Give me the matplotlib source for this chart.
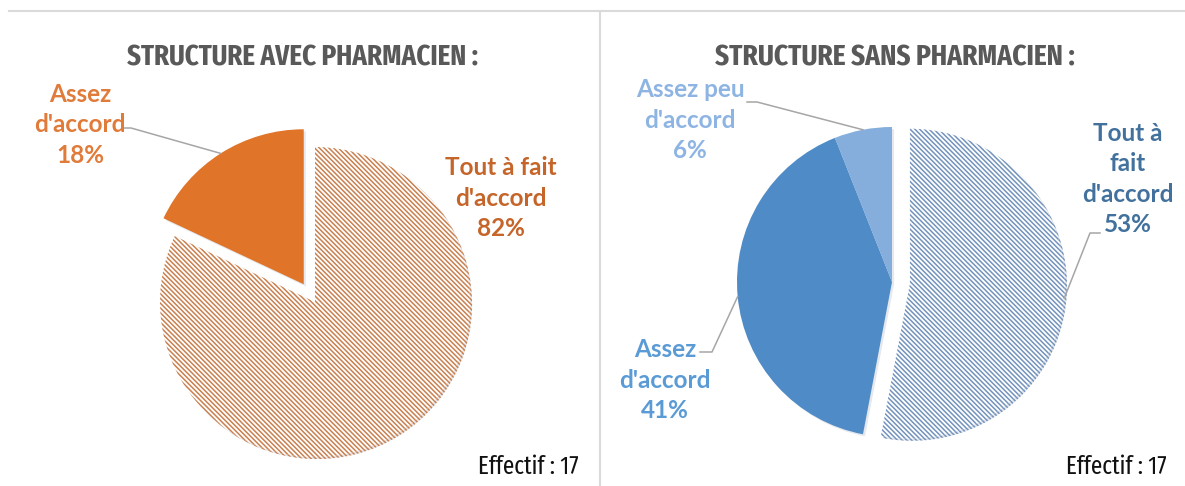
import os
import numpy as np
import matplotlib
matplotlib.use("Agg")
import matplotlib.pyplot as plt
from matplotlib.lines import Line2D
from matplotlib import font_manager as fm
import matplotlib.patheffects as pe

# data
left_title = "STRUCTURE AVEC PHARMACIEN :"
left_labels = ["Tout à fait\nd'accord", "Assez\nd'accord"]
left_values = [82, 18]

right_title = "STRUCTURE SANS PHARMACIEN :"
right_labels = ["Tout à\nfait\nd'accord", "Assez\nd'accord", "Assez peu\nd'accord"]
right_values = [53, 41, 6]

effectif = "Effectif : 17"

W, H = 1185, 486
plt.rcParams['hatch.linewidth'] = 1.1


def narrow_font(target_weight):
    # narrowest installed font, closest to the wanted weight
    best, best_score = None, None
    for f in fm.fontManager.ttflist:
        key = (f.name + os.path.basename(f.fname)).lower().replace(' ', '').replace('-', '')
        if f.style != 'normal':
            continue
        if 'extracondensed' in key or 'ultracondensed' in key:
            s = 0
        elif 'semicondensed' in key:
            s = 2
        elif 'condensed' in key or 'narrow' in key:
            s = 1
        else:
            continue
        w = f.weight if isinstance(f.weight, int) else fm.weight_dict.get(f.weight, 400)
        score = (s, abs(w - target_weight))
        if best_score is None or score < best_score:
            best, best_score = f.fname, score
    if best is None:
        return fm.FontProperties(family='DejaVu Sans', weight=target_weight, stretch='condensed')
    return fm.FontProperties(fname=best)


title_fp = narrow_font(700)
eff_fp = narrow_font(400)

fig = plt.figure(figsize=(W / 100, H / 100), dpi=100)
ax = fig.add_axes([0, 0, 1, 1])

# frame lines
fig.add_artist(Line2D([9 / W, 1], [1 - 11 / H, 1 - 11 / H], color='#DADADA', lw=1.5))
fig.add_artist(Line2D([600 / W, 600 / W], [0, 1 - 11 / H], color='#DADADA', lw=1.5))

label_font = dict(family='Lato', weight='bold', fontsize=17.5, linespacing=1.4, ha='center', va='center')
lead = dict(color='#A6A6A6', lw=1.1)
shadow = [pe.SimplePatchShadow(offset=(1.5, -1.5), shadow_rgbFace='#9aa6b4', alpha=0.25), pe.Normal()]


def y(v):
    return H - v


def edge_point(w):
    # point on the arc at the middle angle of the wedge
    mid = np.deg2rad((w.theta1 + w.theta2) / 2)
    cx, cy = w.center
    return cx + w.r * np.cos(mid), cy + w.r * np.sin(mid)


def fitted_text(x, yy, s, width, fp, color, ha='center'):
    t = ax.text(x, yy, s, ha=ha, va='center', fontproperties=fp, color=color)
    t.set_fontsize(20)
    r = fig.canvas.get_renderer()
    wpx = t.get_window_extent(r).width
    t.set_fontsize(20 * width / wpx)
    return t


# ---- left pie ----
wl, _ = ax.pie(left_values, startangle=90, counterclock=False,
               center=(315, y(302)), radius=155, explode=[0, 21],
               colors=['white', '#E07428'], wedgeprops=dict(linewidth=0),
               frame=True)
wl[0].set_hatch('\\' * 7)
wl[0].set_edgecolor('#C98050')

# ---- right pie ----
wr, _ = ax.pie(right_values, startangle=90, counterclock=False,
               center=(892, y(282)), radius=155, explode=[18, 0, 0],
               colors=['white', '#4F8BC6', '#85AEDC'], wedgeprops=dict(linewidth=0),
               frame=True)
wr[0].set_hatch('\\' * 7)
wr[0].set_edgecolor('#7393BC')

for w in list(wl) + list(wr):
    w.set_path_effects(shadow)

ax.set_xlim(0, W)
ax.set_ylim(0, H)
ax.set_aspect('equal')
ax.axis('off')

fitted_text(303, y(58), left_title, 351, title_fp, '#595959')
fitted_text(895, y(58), right_title, 359, title_fp, '#595959')
fitted_text(578, y(467), effectif, 101, eff_fp, '#111111', ha='right')
fitted_text(1167, y(467), effectif, 101, eff_fp, '#111111', ha='right')

ax.text(80, y(125), left_labels[1] + "\n" + f"{left_values[1]}%", color='#E07B39', **label_font)
ax.text(501, y(198), left_labels[0] + "\n" + f"{left_values[0]}%", color='#C5652A', **label_font)
px, py = edge_point(wl[1])
ax.plot([123, 131, px], [y(128), y(128), py], **lead)

ax.text(1128, y(179), right_labels[0] + "\n" + f"{right_values[0]}%", color='#41719C', **label_font)
ax.text(665, y(380), right_labels[1] + "\n" + f"{right_values[1]}%", color='#5B9BD5', **label_font)
ax.text(690, y(120), right_labels[2] + "\n" + f"{right_values[2]}%", color='#8DB4E2', **label_font)

px, py = edge_point(wr[0])
ax.plot([1100, 1090, px], [y(233), y(233), py], **lead)
px, py = edge_point(wr[1])
ax.plot([700, 712, px], [y(352), y(352), py], **lead)
px, py = edge_point(wr[2])
ax.plot([747, 757, px], [y(102), y(102), py], **lead)

fig.savefig('out.png', dpi=100)
